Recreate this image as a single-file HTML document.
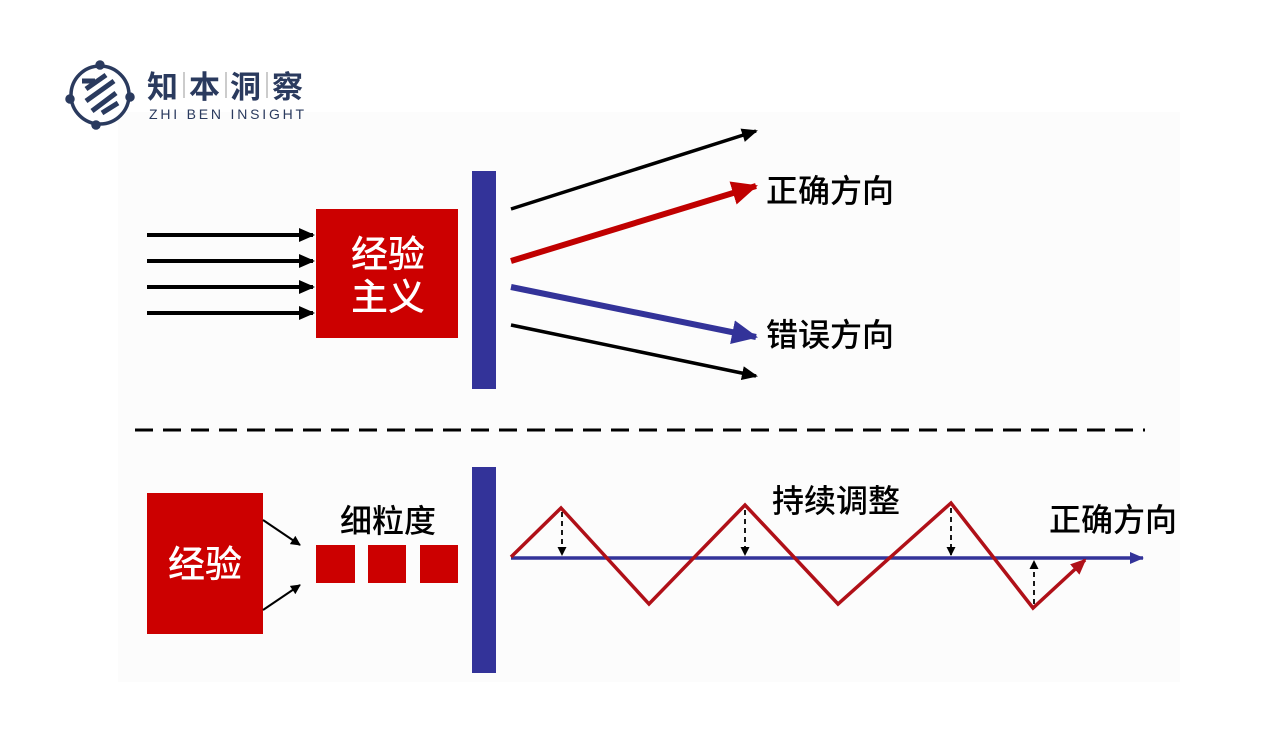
<!DOCTYPE html>
<html><head><meta charset="utf-8"><style>
html,body{margin:0;padding:0;background:#fff;}
body{width:1267px;height:752px;position:relative;overflow:hidden;font-family:"Liberation Sans","Noto Sans CJK SC",sans-serif;}
</style></head><body>
<svg width="1267" height="752" viewBox="0 0 1267 752" xmlns="http://www.w3.org/2000/svg" style="position:absolute;left:0;top:0">
<defs>
<marker id="ab" markerWidth="10" markerHeight="10" refX="9" refY="5" orient="auto" markerUnits="userSpaceOnUse"><path d="M0,0 L10,5 L0,10 Z" fill="#000"/></marker>
<marker id="abig" markerWidth="16" markerHeight="14" refX="14" refY="7" orient="auto" markerUnits="userSpaceOnUse"><path d="M0,0 L16,7 L0,14 Z" fill="#000"/></marker>
<marker id="ar" markerWidth="26" markerHeight="24" refX="24" refY="12" orient="auto" markerUnits="userSpaceOnUse"><path d="M0,0 L26,12 L0,24 Z" fill="#c00000"/></marker>
<marker id="abl" markerWidth="26" markerHeight="24" refX="24" refY="12" orient="auto" markerUnits="userSpaceOnUse"><path d="M0,0 L26,12 L0,24 Z" fill="#333399"/></marker>
<marker id="abl2" markerWidth="14" markerHeight="12" refX="13" refY="6" orient="auto" markerUnits="userSpaceOnUse"><path d="M0,0 L14,6 L0,12 Z" fill="#333399"/></marker>
<marker id="ar2" markerWidth="16" markerHeight="14" refX="14" refY="7" orient="auto" markerUnits="userSpaceOnUse"><path d="M0,0 L16,7 L0,14 Z" fill="#b01018"/></marker>
<marker id="as" markerWidth="9" markerHeight="9" refX="8" refY="4.5" orient="auto" markerUnits="userSpaceOnUse"><path d="M0,0 L9,4.5 L0,9 Z" fill="#000"/></marker>
</defs>
<rect x="118" y="112" width="1062" height="570" fill="#fcfcfc"/>
<!-- logo -->
<g transform="translate(100,95)" fill="none" stroke="#2a3a5e" stroke-width="3.5">
<circle r="29"/>
<path d="M-18,-14 L-5,-14 M-14,-6 L6,-20 M-14,6 L14,-14 M-8,16 L16,-2 M2,18 L18,8" stroke-width="5"/>
<circle cx="0" cy="-30" r="3" fill="#2a3a5e"/><circle cx="-30" cy="4" r="3" fill="#2a3a5e"/><circle cx="30" cy="2" r="3" fill="#2a3a5e"/><circle cx="-4" cy="30" r="3" fill="#2a3a5e"/>
</g>
<g font-size="31" font-weight="bold" fill="#2a3a5e" font-family="Noto Sans CJK SC,sans-serif">
<text x="147" y="98">知</text>
<text x="189" y="98">本</text>
<text x="230" y="98">洞</text>
<text x="272" y="98">察</text>
</g>
<g stroke="#999" stroke-width="1">
<line x1="184" y1="72" x2="184" y2="98"/><line x1="226" y1="72" x2="226" y2="98"/><line x1="267" y1="72" x2="267" y2="98"/>
</g>
<text x="149" y="119" font-size="14" fill="#2a3a5e" letter-spacing="2.8">ZHI BEN INSIGHT</text>

<!-- top -->
<g stroke="#000" stroke-width="4">
<line x1="147" y1="235" x2="313" y2="235" marker-end="url(#abig)"/>
<line x1="147" y1="261" x2="313" y2="261" marker-end="url(#abig)"/>
<line x1="147" y1="287" x2="313" y2="287" marker-end="url(#abig)"/>
<line x1="147" y1="313" x2="313" y2="313" marker-end="url(#abig)"/>
</g>
<rect x="316" y="209" width="142" height="129" fill="#cc0000"/>
<g font-family="Noto Sans CJK SC,sans-serif" font-weight="500">
<text x="388" y="267" font-size="37" fill="#fff" text-anchor="middle">经验</text>
<text x="388" y="310" font-size="37" fill="#fff" text-anchor="middle">主义</text>
</g>
<rect x="472" y="171" width="24" height="218" fill="#333399"/>
<line x1="511" y1="209" x2="756" y2="131" stroke="#000" stroke-width="3.5" marker-end="url(#abig)"/>
<line x1="511" y1="261" x2="756" y2="186" stroke="#c00000" stroke-width="6" marker-end="url(#ar)"/>
<line x1="511" y1="287" x2="756" y2="337" stroke="#333399" stroke-width="6" marker-end="url(#abl)"/>
<line x1="511" y1="325" x2="756" y2="376" stroke="#000" stroke-width="3.5" marker-end="url(#abig)"/>
<g font-family="Noto Sans CJK SC,sans-serif" font-weight="500" font-size="32" fill="#000">
<text x="766" y="202">正确方向</text>
<text x="766" y="346">错误方向</text>
</g>

<line x1="135" y1="430" x2="1145" y2="430" stroke="#000" stroke-width="3" stroke-dasharray="18,10"/>

<!-- bottom -->
<rect x="147" y="493" width="116" height="141" fill="#cc0000"/>
<text x="205" y="577" font-size="37" font-weight="500" fill="#fff" text-anchor="middle" font-family="Noto Sans CJK SC,sans-serif">经验</text>
<line x1="263" y1="520" x2="300" y2="545" stroke="#000" stroke-width="2" marker-end="url(#ab)"/>
<line x1="263" y1="610" x2="300" y2="585" stroke="#000" stroke-width="2" marker-end="url(#ab)"/>
<rect x="316" y="545" width="39" height="38" fill="#cc0000"/>
<rect x="368" y="545" width="38" height="38" fill="#cc0000"/>
<rect x="420" y="545" width="38" height="38" fill="#cc0000"/>
<rect x="472" y="467" width="24" height="206" fill="#333399"/>
<line x1="511" y1="558" x2="1143" y2="558" stroke="#333399" stroke-width="3.5" marker-end="url(#abl2)"/>
<polyline points="511,557 561,508 649,604 745,505 838,604 951,503 1033,608 1085,560" fill="none" stroke="#b01018" stroke-width="3.5" marker-end="url(#ar2)"/>
<g stroke="#000" stroke-width="1.8" stroke-dasharray="5,4">
<line x1="562" y1="512" x2="562" y2="555" marker-end="url(#as)"/>
<line x1="745" y1="510" x2="745" y2="555" marker-end="url(#as)"/>
<line x1="951" y1="508" x2="951" y2="555" marker-end="url(#as)"/>
<line x1="1034" y1="604" x2="1034" y2="561" marker-end="url(#as)"/>
</g>
<g font-family="Noto Sans CJK SC,sans-serif" font-weight="500" font-size="32" fill="#000">
<text x="388" y="532" text-anchor="middle">细粒度</text>
<text x="772" y="512">持续调整</text>
<text x="1049" y="531">正确方向</text>
</g>
</svg>
</body></html>
